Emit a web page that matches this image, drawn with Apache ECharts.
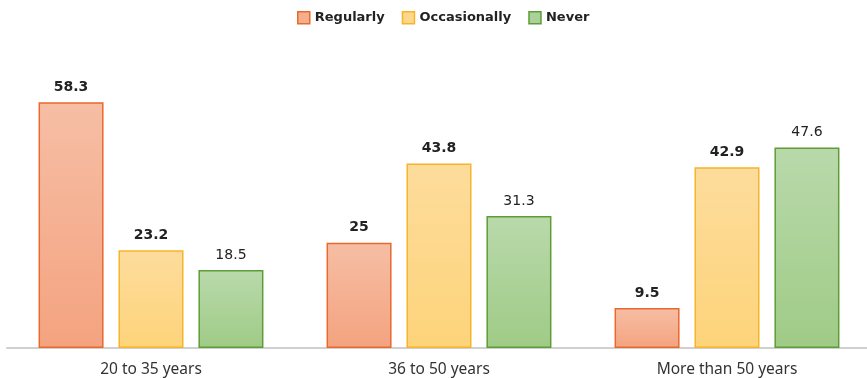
<!DOCTYPE html>
<html>
<head>
<meta charset="utf-8">
<style>
  html, body { margin: 0; padding: 0; background: #ffffff; }
  #chart { width: 867px; height: 378px; }
</style>
<script src="https://cdn.jsdelivr.net/npm/echarts@6/dist/echarts.min.js"></script>
</head>
<body>
<div id="chart"></div>
<script>
// Age groups along the x axis
var ageGroups = ['20 to 35 years', '36 to 50 years', 'More than 50 years'];

// Share of respondents (%) per frequency answer
var regularly    = [58.3, 25, 9.5];
var occasionally = [23.2, 43.8, 42.9];
var never        = [18.5, 31.3, 47.6];

var seriesNames = ['Regularly', 'Occasionally', 'Never'];

function grad(top, bottom) {
  return new echarts.graphic.LinearGradient(0, 0, 0, 1, [
    { offset: 0, color: top },
    { offset: 1, color: bottom }
  ]);
}

var palette = [
  { top: '#F6BEA5', bottom: '#F4A37F', border: '#E9682C', legend: '#F4AE8E' },
  { top: '#FDDC9C', bottom: '#FED47A', border: '#F6B42A', legend: '#FDD88A' },
  { top: '#B9D9AB', bottom: '#9FCB86', border: '#5C9E35', legend: '#ACD198' }
];

var values = [regularly, occasionally, never];
var labelWeights = ['bold', 'bold', 'normal'];

var series = seriesNames.map(function (name, i) {
  return {
    name: name,
    type: 'bar',
    data: values[i],
    barWidth: 65,
    barGap: '23%',
    itemStyle: {
      color: grad(palette[i].top, palette[i].bottom),
      borderColor: palette[i].border,
      borderWidth: 1.5
    },
    label: {
      show: true,
      position: 'top',
      distance: 8,
      fontFamily: 'DejaVu Sans',
      fontSize: 14,
      fontWeight: labelWeights[i],
      color: '#222222'
    }
  };
});

var chart = echarts.init(document.getElementById('chart'), null, { renderer: 'canvas' });
chart.setOption({
  animation: false,
  backgroundColor: '#ffffff',
  legend: {
    top: 6,
    left: 292,
    itemWidth: 12,
    itemHeight: 12,
    itemGap: 17,
    textStyle: {
      fontFamily: 'DejaVu Sans',
      fontSize: 13,
      fontWeight: 'bold',
      color: '#222222'
    },
    data: seriesNames.map(function (name, i) {
      return {
        name: name,
        icon: 'rect',
        itemStyle: { color: palette[i].legend, borderColor: palette[i].border, borderWidth: 1.5 }
      };
    })
  },
  grid: {
    left: 7,
    width: 864,
    top: 53,
    bottom: 30,
    containLabel: false,
    outerBoundsMode: 'none'
  },
  xAxis: {
    type: 'category',
    data: ageGroups,
    axisTick: { show: false },
    axisLine: { lineStyle: { color: '#D0D0D0', width: 2 } },
    axisLabel: {
      margin: 14,
      fontFamily: 'Noto Sans',
      fontSize: 15.5,
      color: '#333333'
    }
  },
  yAxis: {
    type: 'value',
    min: 0,
    max: 70,
    show: false,
    splitLine: { show: false }
  },
  series: series
});
</script>
</body>
</html>
